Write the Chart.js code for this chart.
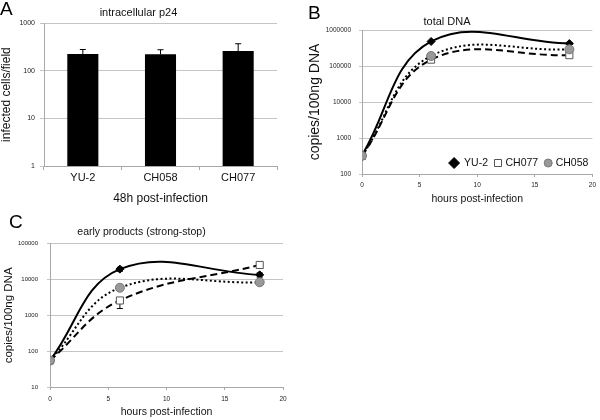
<!DOCTYPE html>
<html>
<head>
<meta charset="utf-8">
<title>HIV-1 infection kinetics</title>
<script src="https://cdn.jsdelivr.net/npm/chart.js@4.4.1/dist/chart.umd.min.js"></script>
<style>
body { margin: 0; background: #fff; }
#wrap { position: relative; width: 600px; height: 420px; font-family: 'Liberation Sans', Arial, sans-serif; }
canvas { position: absolute; }
.panel { position: absolute; font-size: 19px; line-height: 1; color: #000; }
</style>
</head>
<body>
<div id="wrap">
  <canvas id="chartA" width="300" height="210" style="left:0;top:0"></canvas>
  <canvas id="chartB" width="300" height="210" style="left:300px;top:0"></canvas>
  <canvas id="chartC" width="300" height="210" style="left:0;top:210px"></canvas>
  <div class="panel" style="left:0;top:-1px">A</div>
  <div class="panel" style="left:308px;top:3px">B</div>
  <div class="panel" style="left:9px;top:212px">C</div>
</div>
<script>
// Panel A - intracellular p24 at 48h
const strains = ['YU-2', 'CH058', 'CH077'];
const p24Cells = [225, 222, 260];
const p24Err = [55, 55, 110];
const p24Ticks = [1, 10, 100, 1000];

// Panels B and C - time course
const hours = [0, 6, 18];
const hourTicks = [0, 5, 10, 15, 20];

const totalYU2 = [330, 480000, 420000];
const totalCH077 = [320, 150000, 200000];
const totalCH058 = [320, 190000, 290000];
const totalTicks = [100, 1000, 10000, 100000, 1000000];

const earlyYU2 = [55, 19500, 13500];
const earlyCH077 = [55, 2600, 25500];
const earlyCH058 = [55, 5900, 8400];
const earlyYU2ErrLo = [0, 2500, 1800];
const earlyYU2ErrHi = [0, 2500, 1800];
const earlyCH077ErrLo = [0, 1050, 0];
const earlyCH077ErrHi = [0, 0, 0];
const earlyTicks = [10, 100, 1000, 10000, 100000];

Chart.defaults.font.family = "'Liberation Sans', Arial, sans-serif";
Chart.defaults.color = '#111';

const gridColor = '#c4c4c4';
const axisColor = '#a8a8a8';

function points(ys) {
    return hours.map((h, i) => ({ x: h, y: ys[i] }));
}

// error bars drawn under the markers
const errorBars = {
    id: 'errorBars',
    beforeDatasetsDraw(chart) {
        const ctx = chart.ctx;
        const yScale = chart.scales.y;
        chart.data.datasets.forEach((ds, i) => {
            if (!ds.errHi) return;
            const meta = chart.getDatasetMeta(i);
            meta.data.forEach((el, j) => {
                const d = ds.data[j];
                const v = typeof d === 'object' ? d.y : d;
                const lo = ds.errLo ? ds.errLo[j] : 0;
                const hi = ds.errHi[j];
                if (!lo && !hi) return;
                const x = el.x;
                const yLo = yScale.getPixelForValue(v - lo);
                const yHi = yScale.getPixelForValue(v + hi);
                ctx.save();
                ctx.strokeStyle = '#000';
                ctx.lineWidth = 1;
                ctx.beginPath();
                ctx.moveTo(x, yLo);
                ctx.lineTo(x, yHi);
                if (hi) { ctx.moveTo(x - 3, yHi); ctx.lineTo(x + 3, yHi); }
                if (lo) { ctx.moveTo(x - 3, yLo); ctx.lineTo(x + 3, yLo); }
                ctx.stroke();
                ctx.restore();
            });
        });
    }
};

// legend drawn inside the plot area, bottom right (panel B)
const insideLegend = {
    id: 'insideLegend',
    afterDraw(chart) {
        const ctx = chart.ctx;
        const area = chart.chartArea;
        const y = area.bottom - 11;
        ctx.save();
        ctx.font = "10.5px 'Liberation Sans', Arial, sans-serif";
        ctx.textBaseline = 'middle';
        const sets = chart.data.datasets;
        let x = area.right - 4;
        for (let i = sets.length - 1; i >= 0; i--) {
            const ds = sets[i];
            const w = ctx.measureText(ds.label).width;
            const textX = x - w;
            const cx = textX - (ds.pointStyle === 'rectRot' ? 10 : 7.5);
            ctx.fillStyle = '#111';
            ctx.fillText(ds.label, textX, y);
            ctx.fillStyle = ds.pointBackgroundColor;
            ctx.strokeStyle = ds.pointBorderColor;
            ctx.lineWidth = 1;
            ctx.beginPath();
            if (ds.pointStyle === 'rectRot') {
                ctx.moveTo(cx, y - 5.5);
                ctx.lineTo(cx + 5.5, y);
                ctx.lineTo(cx, y + 5.5);
                ctx.lineTo(cx - 5.5, y);
                ctx.closePath();
            } else if (ds.pointStyle === 'rect') {
                ctx.rect(cx - 3.5, y - 3.5, 7, 7);
            } else {
                ctx.arc(cx, y, 4, 0, Math.PI * 2);
            }
            ctx.fill();
            ctx.stroke();
            x = cx - 10;
        }
        ctx.restore();
    }
};

function logAxis(ticks, min, max, opts) {
    return {
        type: 'logarithmic',
        min: min,
        max: max,
        afterBuildTicks: axis => { axis.ticks = ticks.map(v => ({ value: v })); },
        afterFit: axis => { axis.width = opts.width; },
        ticks: {
            font: { size: opts.tickSize },
            padding: opts.tickPad,
            color: '#222',
            callback: v => String(v)
        },
        grid: { color: gridColor, tickLength: opts.tickLen },
        border: { color: axisColor },
        title: {
            display: true,
            text: opts.title,
            font: { size: opts.titleSize, lineHeight: 1 },
            padding: { top: opts.titlePad, bottom: 0 },
            color: '#111'
        }
    };
}

function hourAxis(height, tickPad, titleSize, titlePad) {
    return {
        type: 'linear',
        min: 0,
        max: 20,
        afterBuildTicks: axis => { axis.ticks = hourTicks.map(v => ({ value: v })); },
        afterFit: axis => { axis.height = height; },
        ticks: { font: { size: 6.5 }, padding: tickPad, color: '#222' },
        grid: { drawOnChartArea: false, tickLength: 3, color: axisColor },
        border: { color: axisColor },
        title: {
            display: true,
            text: 'hours post-infection',
            font: { size: titleSize, lineHeight: 1 },
            padding: { top: 0, bottom: titlePad },
            color: '#111'
        }
    };
}

function series(label, ys, style, extra) {
    const base = {
        label: label,
        data: points(ys),
        borderColor: '#000',
        borderWidth: 2,
        tension: 0.4,
        pointStyle: style.shape,
        pointRadius: style.radius,
        pointBackgroundColor: style.fill,
        pointBorderColor: style.stroke,
        pointBorderWidth: 1,
        borderDash: style.dash
    };
    return Object.assign(base, extra || {});
}

const yu2Style = { shape: 'rectRot', radius: 4, fill: '#000', stroke: '#000', dash: [] };
const ch077Style = { shape: 'rect', radius: 5, fill: '#fff', stroke: '#555', dash: [7, 4] };
const ch058Style = { shape: 'circle', radius: 4.5, fill: '#999', stroke: '#777', dash: [2, 2.5] };

// Panel A
new Chart(document.getElementById('chartA'), {
    type: 'bar',
    data: {
        labels: strains,
        datasets: [{
            data: p24Cells,
            errHi: p24Err,
            backgroundColor: '#000',
            barPercentage: 0.4,
            categoryPercentage: 1
        }]
    },
    options: {
        responsive: false,
        animation: false,
        layout: { padding: { left: 0, right: 23, top: 0, bottom: 0 }, autoPadding: false },
        plugins: {
            legend: { display: false },
            tooltip: { enabled: false },
            title: {
                display: true,
                text: 'intracellular p24',
                font: { size: 11, weight: 'normal' },
                padding: { top: 6, bottom: 4 },
                color: '#111'
            }
        },
        scales: {
            x: {
                afterFit: axis => { axis.height = 44; },
                grid: { offset: true, drawOnChartArea: false, tickLength: 4, color: axisColor },
                border: { color: axisColor },
                ticks: { font: { size: 11 }, padding: 1.5, color: '#111' },
                title: {
                    display: true,
                    text: '48h post-infection',
                    font: { size: 12, lineHeight: 1.2 },
                    padding: { top: 0, bottom: 4 },
                    color: '#111'
                }
            },
            y: logAxis(p24Ticks, 1, 1000, {
                width: 44, tickSize: 7, tickPad: 5, tickLen: 4,
                title: 'infected cells/field', titleSize: 12, titlePad: 0.5
            })
        }
    },
    plugins: [errorBars]
});

// Panel B
new Chart(document.getElementById('chartB'), {
    type: 'line',
    data: {
        datasets: [
            series('YU-2', totalYU2, yu2Style),
            series('CH077', totalCH077, ch077Style),
            series('CH058', totalCH058, ch058Style, { order: -1 })
        ]
    },
    options: {
        responsive: false,
        animation: false,
        elements: { line: { capBezierPoints: false } },
        layout: { padding: { left: 0, right: 6, top: 0, bottom: 0 }, autoPadding: false },
        plugins: {
            legend: { display: false },
            tooltip: { enabled: false },
            title: {
                display: true,
                text: 'total DNA',
                font: { size: 11, weight: 'normal' },
                padding: { top: 15.4, bottom: 1.4 },
                color: '#111'
            }
        },
        scales: {
            x: hourAxis(36, 4, 10.5, 5.7),
            y: logAxis(totalTicks, 100, 1000000, {
                width: 62, tickSize: 6.5, tickPad: 8, tickLen: 3,
                title: 'copies/100ng DNA', titleSize: 14, titlePad: 8
            })
        }
    },
    plugins: [insideLegend]
});

// Panel C
new Chart(document.getElementById('chartC'), {
    type: 'line',
    data: {
        datasets: [
            series('YU-2', earlyYU2, yu2Style, { errLo: earlyYU2ErrLo, errHi: earlyYU2ErrHi }),
            series('CH077', earlyCH077, ch077Style, { errLo: earlyCH077ErrLo, errHi: earlyCH077ErrHi }),
            series('CH058', earlyCH058, ch058Style, { order: -1 })
        ]
    },
    options: {
        responsive: false,
        animation: false,
        elements: { line: { capBezierPoints: false } },
        layout: { padding: { left: 0, right: 17, top: 0, bottom: 0 }, autoPadding: false },
        plugins: {
            legend: { display: false },
            tooltip: { enabled: false },
            title: {
                display: true,
                text: 'early products (strong-stop)',
                font: { size: 10.5, weight: 'normal' },
                padding: { top: 15.4, bottom: 5.7 },
                color: '#111'
            }
        },
        scales: {
            x: hourAxis(33, 5, 10.5, 3),
            y: logAxis(earlyTicks, 10, 100000, {
                width: 50, tickSize: 6, tickPad: 9, tickLen: 3,
                title: 'copies/100ng DNA', titleSize: 11.5, titlePad: 3.5
            })
        }
    },
    plugins: [errorBars]
});
</script>
</body>
</html>
